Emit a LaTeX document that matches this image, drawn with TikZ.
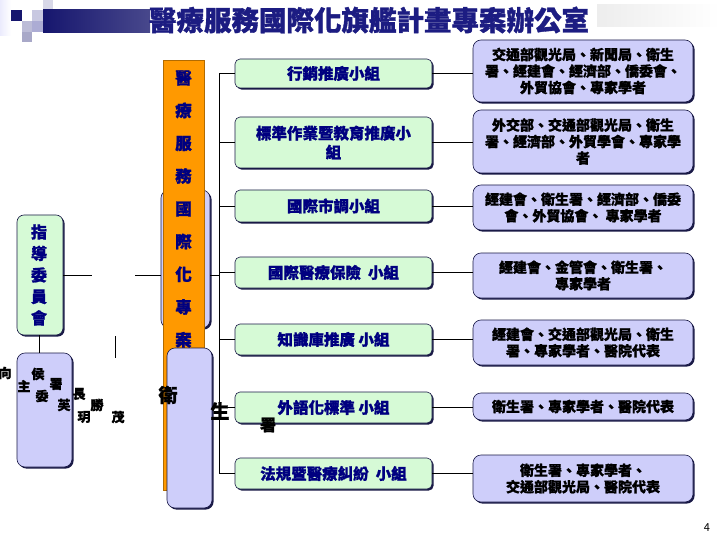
\documentclass[tikz,border=0pt]{standalone}
\usepackage{fontspec}
\setmainfont{Noto Sans CJK TC}[BoldFeatures={FakeBold=1.2}]
\usetikzlibrary{shadows}
\definecolor{navytxt}{RGB}{0,0,128}
\definecolor{titlec}{RGB}{28,28,130}
\definecolor{boxedge}{RGB}{25,25,70}
\definecolor{greenfill}{RGB}{214,250,214}
\definecolor{lavfill}{RGB}{206,206,250}
\definecolor{orangef}{RGB}{255,153,0}
\definecolor{barL}{RGB}{22,22,110}
\definecolor{barR}{RGB}{72,72,140}
\definecolor{sqA}{RGB}{200,200,225}
\definecolor{sqB}{RGB}{216,216,232}
\definecolor{sqC}{RGB}{188,188,215}
\definecolor{sqD}{RGB}{172,172,212}
\definecolor{sqE}{RGB}{168,168,200}
\tikzset{
  shad/.style={drop shadow={shadow xshift=1.6pt,shadow yshift=-1.6pt,fill=boxedge,opacity=1}},
  greenbox/.style={rounded corners=5pt,fill=greenfill,draw=boxedge,line width=0.6pt,shad,
    text=navytxt,font=\bfseries\fontsize{15.5}{19}\selectfont,align=center,
    minimum width=197pt,inner sep=1pt},
  lavbox/.style={rounded corners=8pt,fill=lavfill,draw=boxedge,line width=0.6pt,shad,
    text=black,font=\bfseries\fontsize{14}{16.5}\selectfont,align=center,
    minimum width=220pt,inner sep=1pt},
  plainlav/.style={rounded corners=8pt,fill=lavfill,draw=boxedge,line width=0.6pt,shad,inner sep=0pt},
  conn/.style={draw=black,line width=0.8pt},
  blk/.style={text=black,font=\bfseries\fontsize{13}{13}\selectfont,inner sep=0pt},
}
\begin{document}
\begin{tikzpicture}[x=1pt,y=-1pt]
\useasboundingbox (0,0) rectangle (720,540);
% header decoration
\fill[white] (0,0) rectangle (720,540);
\shade[left color=lavfill!40,right color=white] (0,0) rectangle (11,36);
\fill[barL] (11,10) rectangle (22,21);
\fill[sqA] (32,10) rectangle (43,21);
\fill[sqB] (43,0) rectangle (53,10);
\fill[sqC] (22,21) rectangle (32,32);
\fill[sqD] (32,21) rectangle (43,32);
\fill[sqE] (22,32) rectangle (32,42);
\shade[left color=barL,right color=barR] (43,10) rectangle (150,33);
\shade[left color=gray!14,right color=white] (597,5) rectangle (720,27);
\node[text=titlec,font=\bfseries\fontsize{27.5}{30}\selectfont,inner sep=0pt] (title) at (369,20) {醫療服務國際化旗艦計畫專案辦公室};

% central column
\node[plainlav,minimum width=49pt,minimum height=138pt] (hb) at (185.5,259) {};
\node[fill=orangef,draw=orangef!70!black,line width=0.4pt,minimum width=41pt,minimum height=430pt,inner sep=0pt] (ob) at (183.5,275) {};
\node[text=navytxt,font=\bfseries\fontsize{16.5}{32.75}\selectfont,align=center,inner sep=0pt] (obt) at (183.5,209) {醫\\療\\服\\務\\國\\際\\化\\專\\案};
\node[plainlav,minimum width=45pt,minimum height=160pt] (lb) at (189.5,428) {};

% committee
\node[rounded corners=7pt,fill=greenfill,draw=boxedge,line width=0.6pt,shad,minimum width=46pt,minimum height=120pt,inner sep=0pt] (cm) at (40,275) {};
\node[text=navytxt,font=\bfseries\fontsize{16}{21.5}\selectfont,align=center,inner sep=0pt] (cmt) at (39,275) {指\\導\\委\\員\\會};
\node[plainlav,minimum width=55pt,minimum height=114pt] (bl) at (44.5,410) {};
\draw[conn] (cm.south -| 39,0) -- (bl.north -| 39,0);

% green boxes
\node[greenbox,minimum height=29pt] (g1) at (333.5,73.5) {行銷推廣小組};
\node[greenbox,minimum height=51pt] (g2) at (333.5,142.5) {標準作業暨教育推廣小\\組};
\node[greenbox,minimum height=32pt] (g3) at (333.5,206) {國際市調小組};
\node[greenbox,minimum height=31pt] (g4) at (333.5,272.5) {國際醫療保險\ \ 小組};
\node[greenbox,minimum height=31pt] (g5) at (333.5,339.5) {知識庫推廣 小組};
\node[greenbox,minimum height=31pt] (g6) at (333.5,407.5) {外語化標準 小組};
\node[greenbox,minimum height=31pt] (g7) at (333.5,473.5) {法規暨醫療糾紛\ \ 小組};

% right boxes
\node[lavbox,minimum height=62pt] (rA) at (583,71) {交通部觀光局、新聞局、衛生\\署、經建會、經濟部、僑委會、\\外貿協會、專家學者};
\node[lavbox,minimum height=63pt] (rB) at (583,141.5) {外交部、交通部觀光局、衛生\\署、經濟部、外貿學會、專家學\\者};
\node[lavbox,minimum height=45pt] (rC) at (583,207.5) {經建會、衛生署、經濟部、僑委\\會、外貿協會、\ 專家學者};
\node[lavbox,minimum height=45pt] (rD) at (583,275.5) {經建會、金管會、衛生署、\\專家學者};
\node[lavbox,minimum height=45pt] (rE) at (583,342.5) {經建會、交通部觀光局、衛生\\署、專家學者、醫院代表};
\node[lavbox,minimum height=27pt] (rF) at (583,406.5) {衛生署、專家學者、醫院代表};
\node[lavbox,minimum height=47pt] (rG) at (583,478.5) {衛生署、專家學者、\\交通部觀光局、醫院代表};

% connectors green -> right
\foreach \g/\r in {g1/rA,g2/rB,g3/rC,g4/rD,g5/rE,g6/rF,g7/rG}
  \draw[conn] (\g.east) -- (\g.east -| \r.west);

% trunk
\coordinate (tr) at (219,0);
\draw[conn] (g1.west -| tr) -- (g7.west -| tr);
\foreach \g in {g1,g2,g3,g4,g5,g6,g7}
  \draw[conn] (\g.west -| tr) -- (\g.west);
\coordinate (mid) at (219,275);
\draw[conn] (mid -| hb.east) -- (mid);
\coordinate (gapL) at (92,275);
\coordinate (gapR) at (135,275);
\draw[conn] (gapL -| cm.east) -- (gapL);
\draw[conn] (gapR) -- (gapR -| hb.west);
\coordinate (s1) at (115,336);
\coordinate (s2) at (115,358);
\draw[conn] (s1) -- (s2);

% scattered text
\node[text=black,font=\bfseries\fontsize{19}{19}\selectfont,inner sep=0pt] (wei) at (168,395) {衛};
\node[text=black,font=\bfseries\fontsize{19}{19}\selectfont,inner sep=0pt] (sheng) at (220,411) {生};
\node[text=black,font=\bfseries\fontsize{16}{16}\selectfont,inner sep=0pt] (shu) at (268,425) {署};
\node[blk] (c1) at (5,373) {向};
\node[blk] (c2) at (24,386) {主};
\node[blk] (c3) at (38,374) {侯};
\node[blk] (c4) at (56,384) {署};
\node[blk] (c5) at (42,396) {委};
\node[blk] (c6) at (79,394) {長};
\node[blk] (c7) at (64,405) {芙};
\node[blk] (c8) at (97,405) {勝};
\node[blk] (c9) at (84,417) {玥};
\node[blk] (c10) at (118,417) {茂};
\node[text=black,font=\fontsize{11}{11}\selectfont,inner sep=0pt] (pg) at (707,528) {4};
\end{tikzpicture}
\end{document}
